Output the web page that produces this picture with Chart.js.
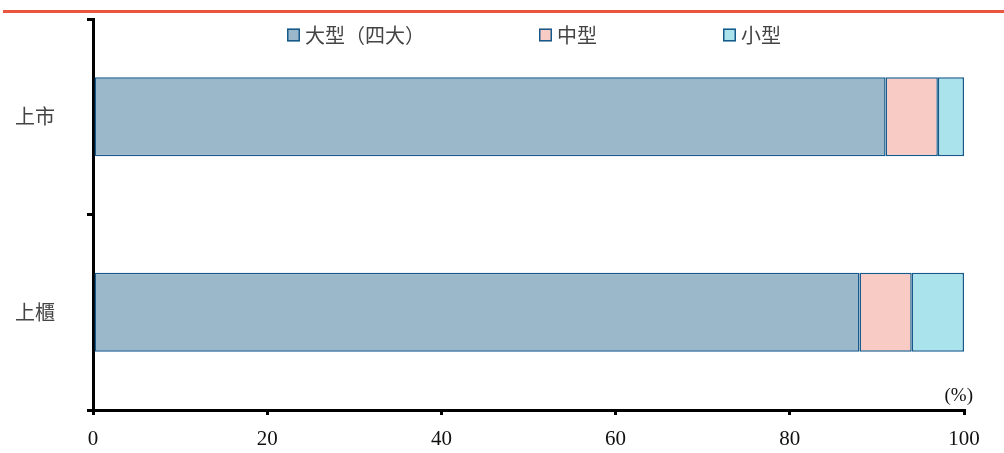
<!DOCTYPE html>
<html>
<head>
<meta charset="utf-8">
<script src="https://cdn.jsdelivr.net/npm/chart.js@4/dist/chart.umd.min.js"></script>
<style>
  html, body { margin: 0; padding: 0; background: #fff; }
  #wrap { position: relative; width: 1004px; height: 453px; }
  #topRule { position: absolute; left: 3px; right: 0; top: 10px; height: 3px; background: #E9553F; }
  canvas { position: absolute; left: 0; top: 0; }
</style>
</head>
<body>
<div id="wrap">
  <canvas id="chartSize" width="1004" height="453"></canvas>
  <div id="topRule"></div>
</div>
<script>
// 上市/上櫃公司簽證會計師事務所規模占比 (%)
const categories = ['上市', '上櫃'];
const seriesNames = ['大型（四大）', '中型', '小型'];
const bigFour = [91, 88];
const midSize = [6, 6];
const smallSize = [3, 6];
const xTicks = [0, 20, 40, 60, 80, 100];

const fills = ['#9BB8CA', '#F8CCC5', '#AAE3EB'];
const edge = '#155A8A';
const cjk = "'Noto Sans CJK TC', 'Noto Sans CJK SC', sans-serif";
const serif = "'Liberation Serif', 'DejaVu Serif', serif";
const legendX = [287, 539, 723];

// leyenda manual y unidad del eje x
const legendPlugin = {
    id: 'manualLegend',
    afterDraw(chart) {
        const { ctx, chartArea } = chart;
        const box = 13, y = 35;
        ctx.save();
        ctx.font = '20px ' + cjk;
        seriesNames.forEach((name, i) => {
            const x = legendX[i];
            ctx.fillStyle = fills[i];
            ctx.fillRect(x, y - 6.5, box, box);
            ctx.strokeStyle = edge;
            ctx.lineWidth = 1.5;
            ctx.strokeRect(x + 0.75, y - 5.75, box - 1.5, box - 1.5);
            ctx.fillStyle = '#444';
            ctx.textBaseline = 'middle';
            ctx.textAlign = 'left';
            ctx.fillText(name, x + box + 5, y);
        });
        ctx.font = '19px ' + serif;
        ctx.fillStyle = '#111';
        ctx.textAlign = 'right';
        ctx.textBaseline = 'bottom';
        ctx.fillText('(%)', chartArea.right + 9, chartArea.bottom - 4);
        ctx.restore();
    }
};

const ctx = document.getElementById('chartSize');
new Chart(ctx, {
    type: 'bar',
    data: {
        labels: categories,
        datasets: [bigFour, midSize, smallSize].map((d, i) => ({
            label: seriesNames[i],
            data: d,
            backgroundColor: fills[i],
            borderColor: edge,
            borderWidth: 1.5,
            borderSkipped: false,
            categoryPercentage: 1,
            barPercentage: 0.405
        }))
    },
    options: {
        indexAxis: 'y',
        responsive: false,
        animation: false,
        layout: { padding: { top: 19, right: 40, left: 0, bottom: 0 } },
        plugins: {
            legend: { display: false },
            tooltip: { enabled: false }
        },
        scales: {
            x: {
                stacked: true,
                min: 0,
                max: 100,
                afterBuildTicks: s => { s.ticks = xTicks.map(v => ({ value: v })); },
                afterFit: s => { s.height = 43; s.paddingTop = 0; s.paddingBottom = 0; },
                border: { color: '#000', width: 3 },
                grid: {
                    drawOnChartArea: false,
                    color: '#000',
                    lineWidth: 3,
                    tickLength: 5
                },
                ticks: {
                    color: '#111',
                    padding: 12,
                    font: { family: serif, size: 21 }
                }
            },
            y: {
                stacked: true,
                offset: true,
                afterFit: s => { s.width = 93; s.paddingTop = 0; s.paddingBottom = 0; },
                border: { color: '#000', width: 3 },
                grid: {
                    offset: true,
                    drawOnChartArea: false,
                    color: '#000',
                    lineWidth: 3,
                    tickLength: 6
                },
                ticks: {
                    color: '#444',
                    padding: 32,
                    font: { family: cjk, size: 20 }
                }
            }
        }
    },
    plugins: [legendPlugin]
});
</script>
</body>
</html>
